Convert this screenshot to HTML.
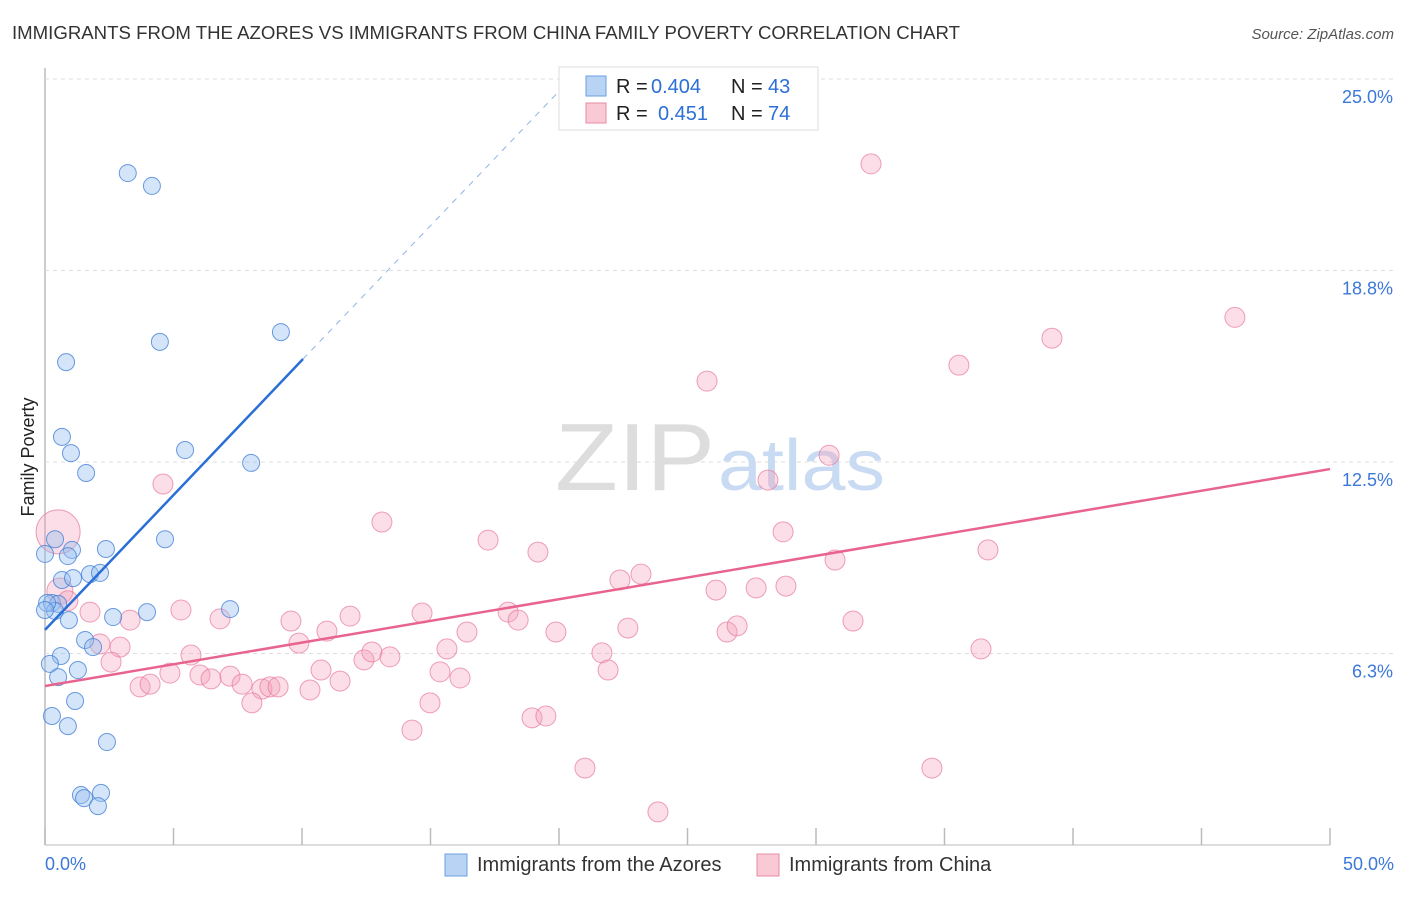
<!DOCTYPE html>
<html><head><meta charset="utf-8"><style>
body{margin:0;background:#fff;font-family:"Liberation Sans",sans-serif;}
svg text{font-family:"Liberation Sans",sans-serif;}
</style></head><body>
<svg id="chart" width="1406" height="892">
<text x="12" y="39" font-size="18" fill="#333" textLength="948" lengthAdjust="spacingAndGlyphs">IMMIGRANTS FROM THE AZORES VS IMMIGRANTS FROM CHINA FAMILY POVERTY CORRELATION CHART</text>
<text x="1394" y="39" font-size="15" fill="#555" font-style="italic" text-anchor="end">Source: ZipAtlas.com</text>
<text x="34" y="457" font-size="18" fill="#222" transform="rotate(-90 34 457)" text-anchor="middle">Family Poverty</text>
<g id="grid"></g>
<text x="555" y="490" font-size="96" fill="#ddd" font-family="Liberation Serif" textLength="160" lengthAdjust="spacingAndGlyphs">ZIP</text>
<text x="718" y="490" font-size="72" fill="#c9dbf2" textLength="167" lengthAdjust="spacingAndGlyphs">atlas</text>
<g id="marks"></g>
<g>
<rect x="559" y="67" width="259" height="63" fill="#fff" stroke="#ddd"/>
<rect x="586" y="76" width="20" height="20" fill="#b9d3f4" stroke="#6a9fe0"/>
<rect x="586" y="103" width="20" height="20" fill="#f9c9d6" stroke="#e88aa6"/>
<text x="616" y="93" font-size="20" fill="#222">R =</text>
<text x="651" y="93" font-size="20" fill="#2c6fd6">0.404</text>
<text x="731" y="93" font-size="20" fill="#222">N =</text>
<text x="768" y="93" font-size="20" fill="#2c6fd6">43</text>
<text x="616" y="120" font-size="20" fill="#222">R =</text>
<text x="658" y="120" font-size="20" fill="#2c6fd6">0.451</text>
<text x="731" y="120" font-size="20" fill="#222">N =</text>
<text x="768" y="120" font-size="20" fill="#2c6fd6">74</text>
</g>
<g>
<rect x="445" y="854" width="22" height="22" fill="#b9d3f4" stroke="#6a9fe0"/>
<text x="477" y="871" font-size="20" fill="#333">Immigrants from the Azores</text>
<rect x="757" y="854" width="22" height="22" fill="#f9c9d6" stroke="#e88aa6"/>
<text x="789" y="871" font-size="20" fill="#333">Immigrants from China</text>
</g>
</svg>
<script>
const yTicks=[6.25,12.5,18.75,25];
const yTickLabels=["6.3%","12.5%","18.8%","25.0%"];
const xTickLabels=["0.0%","50.0%"];
const azoresX=[3.22,4.16,0.82,4.47,9.18,0.66,1.01,1.6,5.45,8.02,0.39,0,1.05,0.89,2.37,4.67,0.66,1.09,1.75,2.14,0.27,0.51,0.39,0.93,2.65,3.97,7.2,1.56,1.87,0.62,0.19,0.51,1.28,1.17,0.27,0.89,2.41,1.40,1.52,2.18,2.06,0.08,0];
const azoresY=[21.93,21.51,15.76,16.42,16.74,13.32,12.79,12.14,12.89,12.47,9.98,9.5,9.63,9.43,9.66,9.98,8.65,8.71,8.84,8.88,7.9,7.87,7.64,7.34,7.44,7.6,7.7,6.69,6.46,6.17,5.91,5.48,5.71,4.7,4.21,3.88,3.36,1.63,1.53,1.7,1.27,7.9,7.67];
const chinaX=[32.14,46.3,39.18,35.56,25.76,30.51,28.13,4.59,13.11,17.24,28.72,19.18,36.69,30.74,23.19,22.37,26.11,27.67,28.83,3.31,5.29,6.81,9.57,11.87,14.67,18.02,18.41,19.88,22.68,26.54,26.93,31.44,16.42,10.97,9.88,2.14,2.92,2.57,5.68,4.86,6.03,6.46,7.2,7.67,8.44,8.75,9.07,10.31,11.48,10.74,12.41,12.72,13.42,15.64,15.37,16.15,21.67,21.91,36.42,3.70,4.09,8.05,14.98,14.28,18.95,19.49,21.01,34.51,23.85,0.51,0.58,0.89,1.75];
const chinaY=[22.23,17.22,16.54,15.66,15.14,12.72,11.91,11.78,10.54,9.95,10.22,9.56,9.63,9.3,8.84,8.65,8.32,8.39,8.45,7.34,7.67,7.38,7.31,7.47,7.57,7.6,7.34,6.95,7.08,6.95,7.15,7.31,6.95,6.98,6.59,6.56,6.46,5.97,6.2,5.61,5.55,5.42,5.51,5.25,5.09,5.16,5.16,5.06,5.35,5.71,6.04,6.3,6.14,6.4,5.65,5.45,6.27,5.71,6.4,5.16,5.25,4.64,4.64,3.75,4.15,4.21,2.51,2.51,1.08,10.22,8.29,7.97,7.6];
const azoresTrend=[[0,7.02],[10.04,15.86],[20.0,24.6]];
const chinaTrend=[[0,5.19],[50,12.27]];
const X0=45,X1=1330,Y0=845,Y25=79;
const sx=v=>X0+(X1-X0)*v/50;
const sy=v=>Y0-(Y0-Y25)*v/25;
const NS="http://www.w3.org/2000/svg";
function mk(tag,at,parent){const e=document.createElementNS(NS,tag);for(const k in at)e.setAttribute(k,at[k]);parent.appendChild(e);return e;}
const grid=document.getElementById('grid'),marks=document.getElementById('marks');
let ax=mk('line',{x1:X0,y1:68,x2:X0,y2:Y0,stroke:'#bbb','stroke-width':1.5},grid);


let bx=mk('line',{x1:X0,y1:Y0,x2:X1,y2:Y0,stroke:'#bbb','stroke-width':1},grid);


yTicks.forEach((t,i)=>{
 const g=mk('line',{x1:X0,y1:sy(t),x2:1394,y2:sy(t),stroke:'#ddd','stroke-dasharray':'4,4'},grid);
 
 
 const l=mk('text',{x:1393,y:sy(t)+24,'font-size':18,fill:'#3b78d8','text-anchor':'end'},grid);
 l.textContent=yTickLabels[i];
 
 
});
for(let i=0;i<=10;i++){
 const x=sx(i*5);
 const t=mk('line',{x1:x,y1:828,x2:x,y2:Y0,stroke:'#bbb','stroke-width':1.5},grid);
 
 
}
[[xTickLabels[0],45,'start'],[xTickLabels[1],1394,'end']].forEach(a=>{
 const l=mk('text',{x:a[1],y:870,'font-size':18,fill:'#3b78d8','text-anchor':a[2]},grid);
 l.textContent=a[0];
 
 
});
chinaX.forEach((v,i)=>{
 const big=i===69?22:(i===70?13:10);
 const c=mk('circle',{cx:sx(v),cy:sy(chinaY[i]),r:big,fill:'rgba(244,160,185,0.35)',stroke:'rgba(232,120,155,0.7)','stroke-width':1},marks);
 
 
});
azoresX.forEach((v,i)=>{
 const c=mk('circle',{cx:sx(v),cy:sy(azoresY[i]),r:8.5,fill:'rgba(150,190,240,0.4)',stroke:'rgba(70,130,215,0.8)','stroke-width':1},marks);
 
 
});
let t1=mk('line',{x1:sx(azoresTrend[0][0]),y1:sy(azoresTrend[0][1]),x2:sx(azoresTrend[1][0]),y2:sy(azoresTrend[1][1]),stroke:'#2a6fd6','stroke-width':2.5},marks);


let t2=mk('line',{x1:sx(azoresTrend[1][0]),y1:sy(azoresTrend[1][1]),x2:sx(azoresTrend[2][0]),y2:sy(azoresTrend[2][1]),stroke:'#8fb3e6','stroke-width':1,'stroke-dasharray':'6,6'},marks);


let t3=mk('line',{x1:sx(chinaTrend[0][0]),y1:sy(chinaTrend[0][1]),x2:sx(chinaTrend[1][0]),y2:sy(chinaTrend[1][1]),stroke:'#e8648e','stroke-width':2.5},marks);


</script>
</body></html>
